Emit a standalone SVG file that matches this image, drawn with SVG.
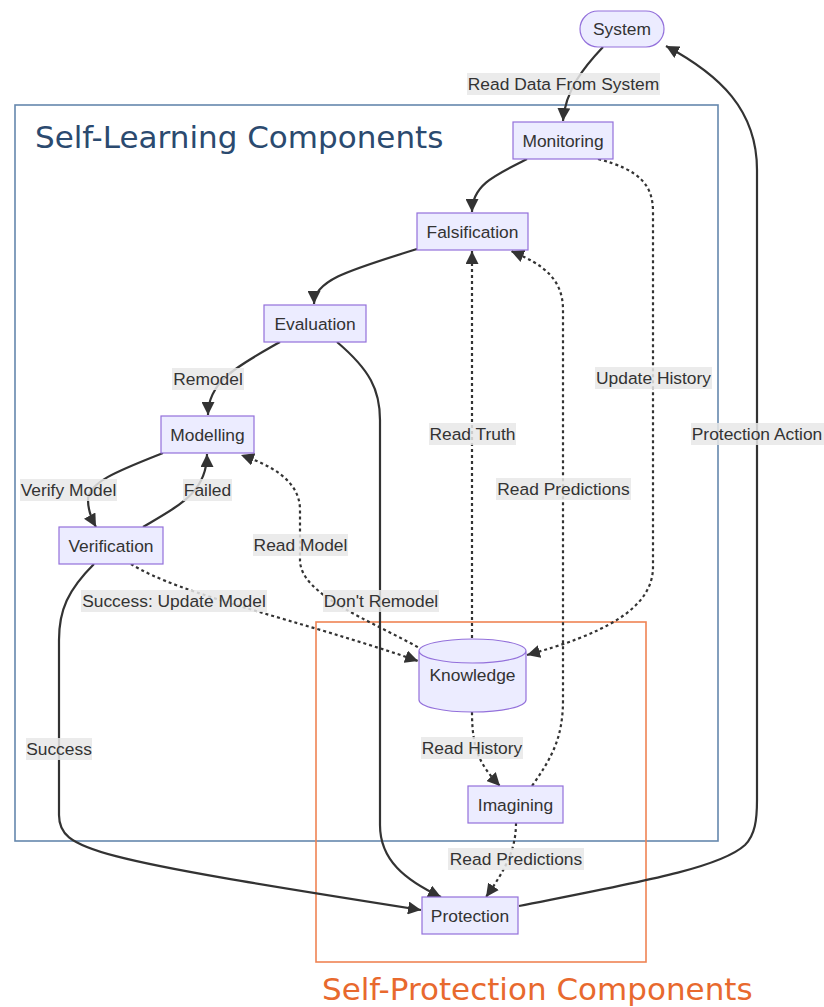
<svg xmlns="http://www.w3.org/2000/svg" width="824" height="1007" viewBox="0 0 824 1007">
<defs>
<marker id="arr" viewBox="0 0 10 10" refX="10" refY="5" markerUnits="userSpaceOnUse" markerWidth="13" markerHeight="13" orient="auto"><path d="M0,0 L10,5 L0,10 z" fill="#333"/></marker>
<style>
.node rect,.node path{fill:#ECECFF;stroke:#9370DB;stroke-width:1.2}
.nt{font-family:"Liberation Sans",Arial,sans-serif;font-size:17.4px;fill:#333;text-anchor:middle;dominant-baseline:central}
.e{fill:none;stroke:#333;stroke-width:2.2;marker-end:url(#arr)}
.d{stroke-dasharray:3 3}
.lb{fill:#e8e8e8;opacity:0.85}
.lt{font-family:"Liberation Sans",Arial,sans-serif;font-size:17.4px;fill:#333;text-anchor:middle;dominant-baseline:central}
.ct{font-family:"DejaVu Sans",Verdana,sans-serif;font-size:31px}
</style>
</defs>
<rect width="824" height="1007" fill="#fff"/>
<g id="clusters">
<rect x="15" y="105" width="703" height="736" fill="none" stroke="#6587ad" stroke-width="1.6"/>
<text x="35" y="148" class="ct" fill="#2b4a6f">Self-Learning Components</text>
<rect x="316" y="622" width="330" height="340" fill="none" stroke="#ef8454" stroke-width="1.6"/>
<text x="322" y="1000" class="ct" fill="#e8692e">Self-Protection Components</text>
</g>
<g id="connectors">
<path class="e" d="M603,47 C585,66 565,90 563,121"/>
<path class="e" d="M527,159 C495,175 472,185 472,212"/>
<path class="e d" d="M598,159 C640,170 653,185 653,212 L653,567 C653,610 600,635 527,655"/>
<path class="e" d="M417,249 C350,270 314,280 314,304"/>
<path class="e" d="M280,342 C240,365 208,380 208,415"/>
<path class="e" d="M337,342 C370,370 380,390 380,420 L380,825 C380,860 405,880 441,897"/>
<path class="e" d="M163,453 C120,470 88,482 88,500 C88,510 91,518 96,527"/>
<path class="e" d="M143,527 C180,505 207,492 207,454"/>
<path class="e d" d="M131,564 C180,595 300,620 418,661"/>
<path class="e" d="M94,564 C68,590 59,610 59,640 L59,815 C59,850 90,858 421,910"/>
<path class="e d" d="M423,650 C370,620 300,595 300,560 L300,510 C300,480 270,465 241,455"/>
<path class="e d" d="M472,638 L472,251"/>
<path class="e d" d="M532,786 C550,760 563,740 563,700 L563,310 C563,280 545,265 511,251"/>
<path class="e d" d="M472,712 C472,750 480,765 500,786"/>
<path class="e d" d="M516,823 C516,850 505,870 486,897"/>
<path class="e" d="M519,906 C640,882 720,868 745,845 C755,835 757,820 757,800 L757,170 C757,110 720,75 666,46"/>
</g>
<g id="labels">
<rect class="lb" x="467" y="73" width="193" height="22"/><text class="lt" x="563.5" y="84">Read Data From System</text>
<rect class="lb" x="595" y="367" width="117" height="22"/><text class="lt" x="653.5" y="378">Update History</text>
<rect class="lb" x="691" y="423" width="133" height="22"/><text class="lt" x="757" y="434">Protection Action</text>
<rect class="lb" x="496" y="478" width="135" height="22"/><text class="lt" x="563.5" y="489">Read Predictions</text>
<rect class="lb" x="429" y="423" width="87" height="22"/><text class="lt" x="472.5" y="434">Read Truth</text>
<rect class="lb" x="172" y="368" width="72" height="22"/><text class="lt" x="208" y="379">Remodel</text>
<rect class="lb" x="20" y="479" width="97" height="22"/><text class="lt" x="68.5" y="490">Verify Model</text>
<rect class="lb" x="183" y="479" width="49" height="22"/><text class="lt" x="207.5" y="490">Failed</text>
<rect class="lb" x="253" y="534" width="95" height="22"/><text class="lt" x="300.5" y="545">Read Model</text>
<rect class="lb" x="323" y="590" width="116" height="22"/><text class="lt" x="381" y="601">Don't Remodel</text>
<rect class="lb" x="81" y="590" width="186" height="22"/><text class="lt" x="174" y="601">Success: Update Model</text>
<rect class="lb" x="26" y="738" width="66" height="22"/><text class="lt" x="59" y="749">Success</text>
<rect class="lb" x="421" y="737" width="102" height="22"/><text class="lt" x="472" y="748">Read History</text>
<rect class="lb" x="448" y="848" width="136" height="22"/><text class="lt" x="516" y="859">Read Predictions</text>
</g>
<g id="System" class="node"><rect x="580" y="11" width="84" height="36" rx="18" ry="18"/><text class="nt" x="622" y="29">System</text></g>
<g id="Monitoring" class="node"><rect x="513" y="122" width="100" height="37"/><text class="nt" x="563" y="140.5">Monitoring</text></g>
<g id="Falsification" class="node"><rect x="417" y="213" width="111" height="37"/><text class="nt" x="472.5" y="231.5">Falsification</text></g>
<g id="Evaluation" class="node"><rect x="264" y="305" width="102" height="37"/><text class="nt" x="315" y="323.5">Evaluation</text></g>
<g id="Modelling" class="node"><rect x="161" y="416" width="93" height="37"/><text class="nt" x="207.5" y="434.5">Modelling</text></g>
<g id="Verification" class="node"><rect x="59" y="527" width="104" height="37"/><text class="nt" x="111" y="545.5">Verification</text></g>
<g id="Knowledge" class="node"><path d="M419,651 a53.5,12 0 0 0 107,0 a53.5,12 0 0 0 -107,0 l0,49 a53.5,12 0 0 0 107,0 l0,-49"/><text class="nt" x="472.5" y="675">Knowledge</text></g>
<g id="Imagining" class="node"><rect x="468" y="786" width="95" height="37"/><text class="nt" x="515.5" y="804.5">Imagining</text></g>
<g id="Protection" class="node"><rect x="422" y="897" width="96" height="37"/><text class="nt" x="470" y="915.5">Protection</text></g>
</svg>
